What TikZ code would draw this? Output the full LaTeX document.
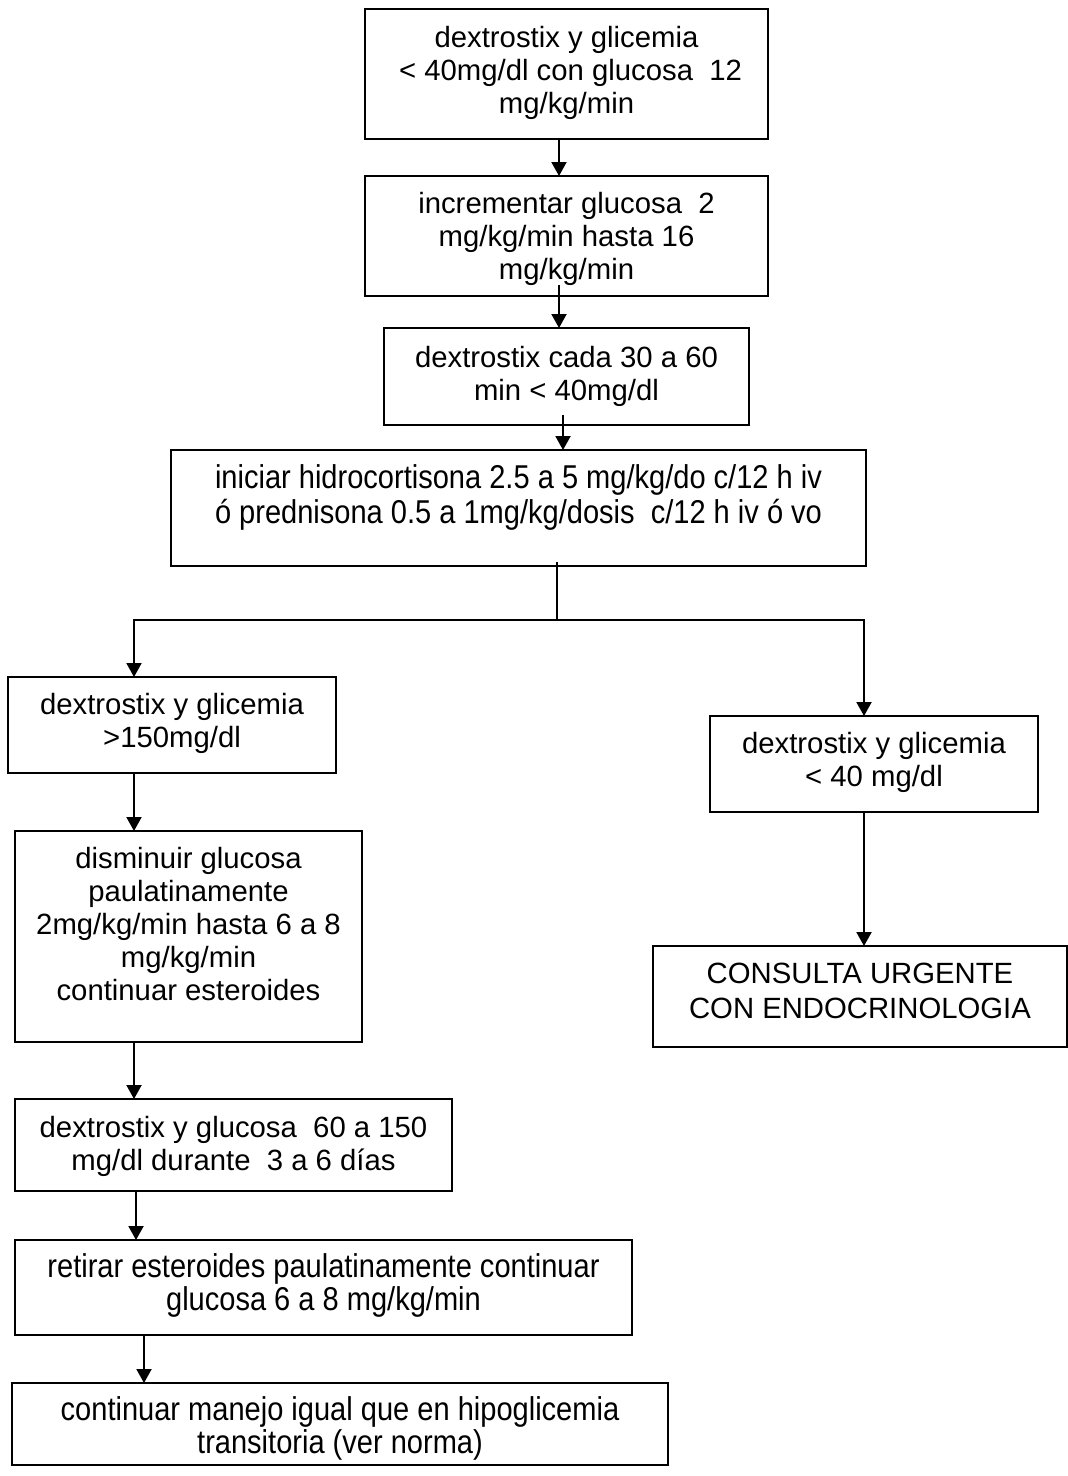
\documentclass[tikz,border=0pt]{standalone}
\usepackage{fontspec}
\setmainfont{Liberation Sans}
\newfontfamily\narrowfont{Liberation Sans}[FakeStretch=0.88]
\usetikzlibrary{arrows.meta,calc}
% fixed-size box content: width, height, first baseline offset, text
\newcommand\bx[4]{\parbox[c][#2][t]{#1}{\centering\rule{0pt}{#3}#4\par}}

\begin{document}
\begin{tikzpicture}[x=1pt,y=-1pt,
  box/.style={draw=black, line width=2pt, inner sep=0pt, outer sep=0pt,
    anchor=north west, font=\fontsize{29.3}{33}\selectfont},
  narrowbox/.style={box, font=\narrowfont\fontsize{33}{33}\selectfont},
  link/.style={line width=2pt},
  arr/.style={link, -{Triangle[length=14pt,width=15pt]}}]
\useasboundingbox (0,0) rectangle (1068,1476);

% main column
\node[box] (b1) at (365,9) {\bx{403pt}{130pt}{38pt}{dextrostix y glicemia\\
  \ < 40mg/dl con glucosa\ \ 12\\ mg/kg/min}};
\node[box] (b2) at (365,176) {\bx{403pt}{120pt}{37pt}{incrementar glucosa\ \ 2\\
  mg/kg/min hasta 16\\ mg/kg/min}};
\node[box] (b3) at (384,328) {\bx{365pt}{97pt}{39pt}{dextrostix cada 30 a 60\\
  min < 40mg/dl}};
\node[narrowbox, font=\narrowfont\fontsize{33}{35}\selectfont] (b4) at (171,450)
  {\bx{695pt}{116pt}{38pt}{iniciar hidrocortisona 2.5 a 5 mg/kg/do c/12 h iv\\
  ó prednisona 0.5 a 1mg/kg/dosis\ \ c/12 h iv ó vo}};

% left branch
\node[box] (b5) at (8,677) {\bx{328pt}{96pt}{37pt}{dextrostix y glicemia\\ >150mg/dl}};
\node[box] (b7) at (15,831) {\bx{347pt}{211pt}{37pt}{disminuir glucosa\\ paulatinamente\\
  2mg/kg/min hasta 6 a 8\\ mg/kg/min\\ continuar esteroides}};
\node[box] (b8) at (15,1099) {\bx{437pt}{92pt}{38pt}{dextrostix y glucosa\ \ 60 a 150\\
  mg/dl durante\ \ 3 a 6 días}};
\node[narrowbox] (b9) at (15,1240) {\bx{617pt}{95pt}{37pt}{retirar esteroides paulatinamente continuar\\
  glucosa 6 a 8 mg/kg/min}};
\node[narrowbox] (b10) at (12,1383) {\bx{656pt}{82pt}{37pt}{continuar manejo igual que en hipoglicemia\\
  transitoria (ver norma)}};

% right branch
\node[box] (b6) at (710,716) {\bx{328pt}{96pt}{37pt}{dextrostix y glicemia\\ < 40 mg/dl}};
\node[box, font=\fontsize{29.3}{35}\selectfont] (b11) at (653,946) {\bx{414pt}{101pt}{37pt}{CONSULTA URGENTE\\
  CON ENDOCRINOLOGIA}};

% connector columns
\coordinate (xa) at (559,0);
\coordinate (xb) at (563,0);
\coordinate (xs) at (557,0);
\coordinate (xl) at (134,0);
\coordinate (xl2) at (136,0);
\coordinate (xl3) at (144,0);
\coordinate (xr) at (864,0);
\coordinate (split) at (557,620);

\draw[arr] (b1.south -| xa) -- (b2.north -| xa);
\draw[arr] ($(b2.south -| xa)+(0,-11)$) -- (b3.north -| xa);
\draw[arr] ($(b3.south -| xb)+(0,-10)$) -- (b4.north -| xb);
\draw[link] ($(b4.south -| xs)+(0,-4)$) -- (split);
\draw[arr] (split) -| (b5.north -| xl);
\draw[arr] (split) -| (b6.north -| xr);
\draw[arr] (b5.south -| xl) -- (b7.north -| xl);
\draw[arr] (b7.south -| xl) -- (b8.north -| xl);
\draw[arr] (b8.south -| xl2) -- (b9.north -| xl2);
\draw[arr] (b9.south -| xl3) -- (b10.north -| xl3);
\draw[arr] (b6.south -| xr) -- (b11.north -| xr);
\end{tikzpicture}
\end{document}
